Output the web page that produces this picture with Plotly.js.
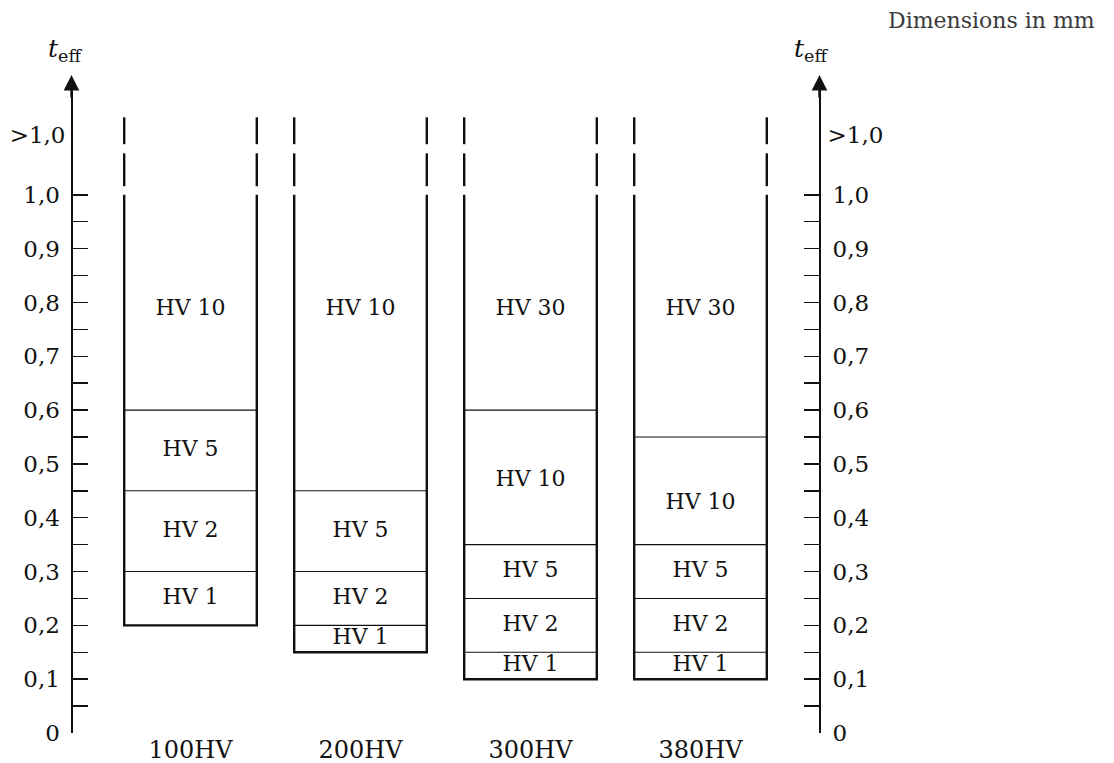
<!DOCTYPE html>
<html>
<head>
<meta charset="utf-8">
<script src="https://cdn.plot.ly/plotly-3.0.1.min.js"></script>
<style>html,body{margin:0;padding:0;background:#fff;}#chart{width:1114px;height:763px;}</style>
</head>
<body>
<div id="chart"></div>
<script>
// ---- data ----
const categories = ['100HV', '200HV', '300HV', '380HV'];
const bottoms = [0.2, 0.15, 0.1, 0.1];
const boundaries = [
  [0.3, 0.45, 0.6],
  [0.2, 0.3, 0.45],
  [0.15, 0.25, 0.35, 0.6],
  [0.15, 0.25, 0.35, 0.55]
];
const hvLabels = [
  ['HV 1', 'HV 2', 'HV 5', 'HV 10'],
  ['HV 1', 'HV 2', 'HV 5', 'HV 10'],
  ['HV 1', 'HV 2', 'HV 5', 'HV 10', 'HV 30'],
  ['HV 1', 'HV 2', 'HV 5', 'HV 10', 'HV 30']
];
const labelY = [
  [0.25, 0.375, 0.525, 0.787],
  [0.175, 0.25, 0.375, 0.787],
  [0.125, 0.2, 0.3, 0.47, 0.787],
  [0.125, 0.2, 0.3, 0.427, 0.787]
];
const openTop = 1.0;
const breakDashes = [[1.016, 1.077], [1.094, 1.144]];
const majorTicks = [0, 0.1, 0.2, 0.3, 0.4, 0.5, 0.6, 0.7, 0.8, 0.9, 1.0];
const majorText = ['0', '0,1', '0,2', '0,3', '0,4', '0,5', '0,6', '0,7', '0,8', '0,9', '1,0'];
const minorTicks = [0.05, 0.15, 0.25, 0.35, 0.45, 0.55, 0.65, 0.75, 0.85, 0.95];
const beyondTick = [1.111];
const beyondText = ['>1,0'];

// ---- layout geometry ----
const W = 1114, H = 763;
const pxPerUnitX = 170;
const xmin = 1 - 190.5 / pxPerUnitX;
const xmax = 1 + (W - 190.5) / pxPerUnitX;
const leftAxisX = 0.3, rightAxisX = 4.7;
const half = 0.39;
const mT = 84, mB = 30;
const plotH = H - mT - mB;
const ytop = plotH / 538.2;
const posOf = v => (v - xmin) / (xmax - xmin);
const paperY = px => 1 + (mT - px) / plotH;

const FONT = 'DejaVu Serif';
const INK = '#111';

const traces = [];
const tx = [], ty = [];
const dx = [], dy = [];
const nx = [], ny = [];
categories.forEach((c, i) => {
  const xc = i + 1, xl = xc - half, xr = xc + half;
  tx.push(xl, xl, xr, xr, null);
  ty.push(openTop, bottoms[i], bottoms[i], openTop, null);
  breakDashes.forEach(d => {
    dx.push(xl, xl, null, xr, xr, null);
    dy.push(d[0], d[1], null, d[0], d[1], null);
  });
  boundaries[i].forEach(b => {
    nx.push(xl, xr, null);
    ny.push(b, b, null);
  });
});
traces.push({x: tx, y: ty, mode: 'lines', line: {color: INK, width: 2.4}, hoverinfo: 'skip'});
traces.push({x: dx, y: dy, mode: 'lines', line: {color: INK, width: 2.4}, hoverinfo: 'skip'});
traces.push({x: nx, y: ny, mode: 'lines', line: {color: INK, width: 1.1}, hoverinfo: 'skip'});

const lx = [], ly = [], lt = [];
categories.forEach((c, i) => {
  hvLabels[i].forEach((t, j) => { lx.push(i + 1); ly.push(labelY[i][j]); lt.push(t); });
});
traces.push({x: lx, y: ly, text: lt, mode: 'text', textposition: 'middle center',
  textfont: {family: FONT, size: 22, color: INK}, hoverinfo: 'skip', cliponaxis: false});

const baseY = {
  range: [0, ytop], showgrid: false, zeroline: false, fixedrange: true,
  tickfont: {family: FONT, size: 23, color: INK}
};

const arrowAnn = xv => ({
  x: xv, y: paperY(75), xref: 'x', yref: 'paper', text: '', showarrow: true,
  arrowhead: 2, arrowsize: 1.3, arrowwidth: 2.4, arrowcolor: INK,
  ax: 0, ay: 24, standoff: 0, startstandoff: 0
});

const layout = {
  width: W, height: H,
  margin: {l: 0, r: 0, t: mT, b: mB, pad: 0},
  paper_bgcolor: '#fff', plot_bgcolor: '#fff',
  showlegend: false,
  xaxis: {
    range: [xmin, xmax], showgrid: false, zeroline: false, showline: false,
    tickmode: 'array', tickvals: [1, 2, 3, 4], ticktext: categories, ticks: '',
    tickfont: {family: FONT, size: 24, color: INK}, automargin: false, fixedrange: true
  },
  yaxis: Object.assign({}, baseY, {
    anchor: 'free', position: posOf(leftAxisX), side: 'left',
    showline: true, linecolor: INK, linewidth: 2.4,
    tickmode: 'array', tickvals: majorTicks, ticktext: majorText,
    ticks: 'inside', ticklen: 15, tickwidth: 1.5, tickcolor: INK, ticklabelstandoff: 6,
    minor: {tickmode: 'array', tickvals: minorTicks, ticks: 'inside', ticklen: 15, tickwidth: 1.5, tickcolor: INK},
    automargin: false
  }),
  yaxis2: Object.assign({}, baseY, {
    overlaying: 'y', anchor: 'free', position: posOf(rightAxisX), side: 'right',
    showline: true, linecolor: INK, linewidth: 2.4,
    tickmode: 'array', tickvals: majorTicks, ticktext: majorText,
    ticks: 'inside', ticklen: 15, tickwidth: 1.5, tickcolor: INK, ticklabelstandoff: 7,
    minor: {tickmode: 'array', tickvals: minorTicks, ticks: 'inside', ticklen: 15, tickwidth: 1.5, tickcolor: INK},
    automargin: false
  }),
  yaxis3: Object.assign({}, baseY, {
    overlaying: 'y', anchor: 'free', position: posOf(leftAxisX), side: 'left',
    showline: false, tickmode: 'array', tickvals: beyondTick, ticktext: beyondText,
    ticks: '', ticklabelstandoff: 6, automargin: false
  }),
  yaxis4: Object.assign({}, baseY, {
    overlaying: 'y', anchor: 'free', position: posOf(rightAxisX), side: 'right',
    showline: false, tickmode: 'array', tickvals: beyondTick, ticktext: beyondText,
    ticks: '', ticklabelstandoff: 7, automargin: false
  }),
  annotations: [
    {text: 'Dimensions in mm', xref: 'paper', yref: 'paper', x: 1097 / W, y: paperY(21),
     xanchor: 'right', yanchor: 'middle', showarrow: false, font: {family: FONT, size: 22, color: '#3a3a3a'}},
    {text: '<i>t</i><sub>eff</sub>', xref: 'x', yref: 'paper', x: leftAxisX - 0.04, y: paperY(50),
     xanchor: 'center', yanchor: 'middle', showarrow: false, font: {family: FONT, size: 25, color: INK}},
    {text: '<i>t</i><sub>eff</sub>', xref: 'x', yref: 'paper', x: rightAxisX - 0.05, y: paperY(50),
     xanchor: 'center', yanchor: 'middle', showarrow: false, font: {family: FONT, size: 25, color: INK}},
    arrowAnn(leftAxisX),
    arrowAnn(rightAxisX)
  ]
};

traces.forEach(t => { if (!t.yaxis) t.yaxis = 'y'; });
traces.push({x: [null], y: [null], yaxis: 'y2', mode: 'lines', hoverinfo: 'skip'});
traces.push({x: [null], y: [null], yaxis: 'y3', mode: 'lines', hoverinfo: 'skip'});
traces.push({x: [null], y: [null], yaxis: 'y4', mode: 'lines', hoverinfo: 'skip'});

Plotly.newPlot('chart', traces, layout, {staticPlot: true, displayModeBar: false});
</script>
</body>
</html>
